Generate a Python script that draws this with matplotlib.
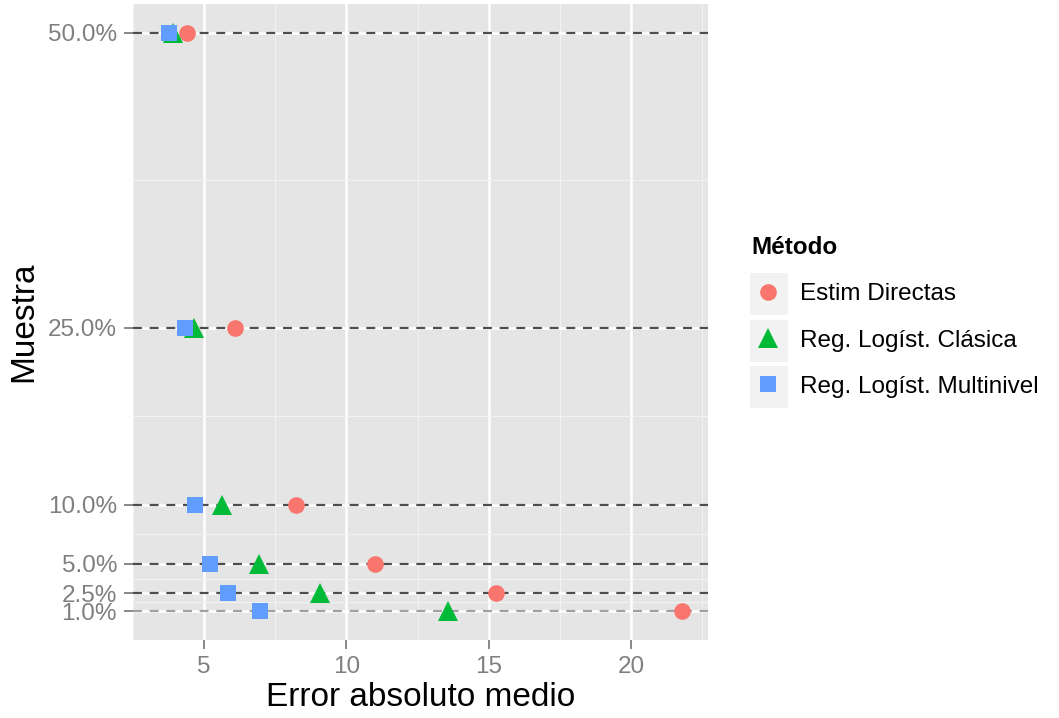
import matplotlib
matplotlib.use('Agg')
import matplotlib.pyplot as plt
from matplotlib.patches import Rectangle

plt.rcParams['font.family'] = ['Liberation Sans', 'DejaVu Sans']

# sample sizes (percent) and mean absolute error for each method
muestra = [50.0, 25.0, 10.0, 5.0, 2.5, 1.0]
estim_directas = [4.38, 6.1, 8.24, 11.0, 15.24, 21.8]
reg_clasica = [3.9, 4.66, 5.62, 6.93, 9.07, 13.55]
reg_multinivel = [3.76, 4.31, 4.69, 5.21, 5.83, 6.97]

metodos = ['Estim Directas', 'Reg. Logíst. Clásica', 'Reg. Logíst. Multinivel']
colores = ['#F8766D', '#00BA38', '#619CFF']
marcadores = ['o', '^', 's']
tamanos = [12, 14, 12]

x_breaks = [5, 10, 15, 20]
x_minor = [2.5, 7.5, 12.5, 17.5, 22.5]

W, H = 1059, 718
fig = plt.figure(figsize=(W / 100, H / 100), dpi=100)
ax = fig.add_axes([133 / W, 1 - 640 / H, (708 - 133) / W, (640 - 4) / H])
ax.set_facecolor('#E5E5E5')
for s in ax.spines.values():
    s.set_visible(False)

# dashed reference lines at each sample size
for m in muestra:
    col = '#A0A0A0' if m == min(muestra) else '#4D4D4D'
    ax.axhline(m, color=col, lw=1.6, ls=(0, (4, 3.5)), zorder=2)

series = [estim_directas, reg_clasica, reg_multinivel]
for vals, lab, c, mk, ms in zip(series, metodos, colores, marcadores, tamanos):
    ax.plot(vals, muestra, ls='none', marker=mk, ms=ms, color=c,
            markeredgewidth=0, label=lab, zorder=3)

# ggplot-like expansion
xall = estim_directas + reg_clasica + reg_multinivel
xr = max(xall) - min(xall)
ax.set_xlim(min(xall) - 0.05 * xr, max(xall) + 0.05 * xr)
yr = max(muestra) - min(muestra)
ax.set_ylim(min(muestra) - 0.05 * yr, max(muestra) + 0.05 * yr)

ax.set_xticks(x_breaks)
ax.set_xticks(x_minor, minor=True)
ys = sorted(muestra)
ax.set_yticks(ys)
ax.set_yticklabels(['%.1f%%' % v for v in ys])
ax.set_yticks([(a + b) / 2 for a, b in zip(ys[:-1], ys[1:])], minor=True)

ax.grid(which='major', color='white', lw=1.8, zorder=0)
ax.grid(which='minor', color='#F2F2F2', lw=0.8, zorder=0)
ax.set_axisbelow(True)
ax.tick_params(which='major', length=6.5, width=1.3, color='#7F7F7F',
               labelcolor='#7F7F7F', labelsize=17.5, pad=5)
ax.tick_params(which='minor', length=0)

ax.set_xlabel('Error absoluto medio', fontsize=24, labelpad=3)
ax.set_ylabel('Muestra', fontsize=24, labelpad=6)

leg = ax.legend(loc='upper left', bbox_to_anchor=(751 / W, 1 - 236 / H),
                bbox_transform=fig.transFigure, frameon=False,
                title='Método', alignment='left', fontsize=17.5,
                title_fontproperties={'weight': 'bold', 'size': 17.5},
                handlelength=1.4, handletextpad=0.6, labelspacing=1.0,
                borderpad=0, borderaxespad=0)

# grey key backgrounds like ggplot
fig.canvas.draw()
r = fig.canvas.get_renderer()
for t in leg.get_texts():
    bb = t.get_window_extent(r)
    cy = (bb.y0 + bb.y1) / 2
    cx = bb.x0 - 31
    kw, kh = 40, 44
    fig.add_artist(Rectangle(((cx - kw / 2) / W, (cy - kh / 2) / H), kw / W, kh / H,
                             transform=fig.transFigure, facecolor='#F2F2F2',
                             edgecolor='white', lw=1.5, zorder=-1))

fig.savefig('out.png', dpi=100)
